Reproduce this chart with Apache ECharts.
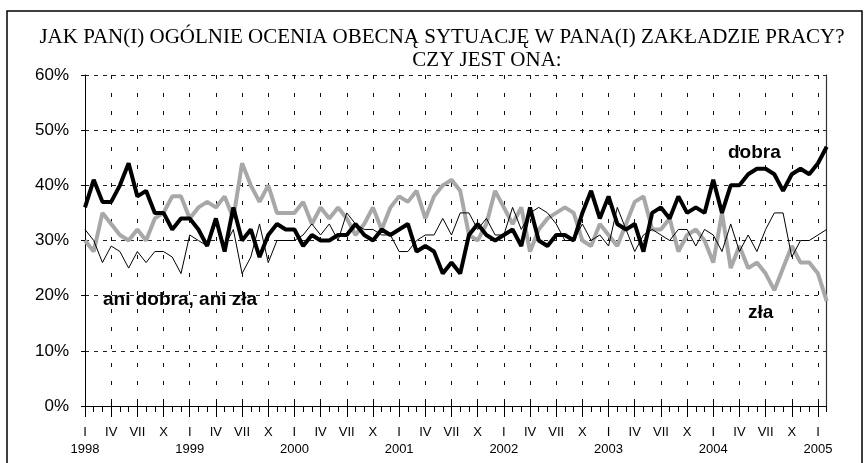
<!DOCTYPE html>
<html><head><meta charset="utf-8">
<script src="https://cdn.jsdelivr.net/npm/echarts@6/dist/echarts.min.js"></script>
<style>html,body{margin:0;padding:0;background:#fff}#c{width:867px;height:463px}</style>
</head><body><div id="c"></div>
<script>
const years = ['1998','1999','2000','2001','2002','2003','2004','2005'];
const quarterLabels = ['I','IV','VII','X'];
const yTicks = [0,10,20,30,40,50,60];
const dobra = [
 36,41,37,37,40,44,38,39,35,35,32,34,
 34,32,29,34,28,36,30,32,27,31,33,32,
 32,29,31,30,30,31,31,33,31,30,32,31,
 32,33,28,29,28,24,26,24,31,33,31,30,
 31,32,29,36,30,29,31,31,30,35,39,34,
 38,33,32,33,28,35,36,34,38,35,36,35,
 41,35,40,40,42,43,43,42,39,42,43,42,
 44,47];
const zla = [
 30,28,35,33,31,30,32,30,34,35,38,38,
 34,36,37,36,38,34,44,40,37,40,35,35,
 35,37,33,36,34,36,34,31,33,36,32,36,
 38,37,39,34,38,40,41,39,31,30,33,39,
 36,33,36,28,32,34,35,36,35,30,29,33,
 31,29,33,37,38,32,32,34,28,31,32,30,
 26,35,25,29,25,26,24,21,25,29,26,26,
 24,19];
const ani = [
 32,30,26,29,28,25,28,26,28,28,27,24,
 31,30,29,33,29,32,24,27,33,26,30,30,
 30,31,33,31,33,30,35,33,32,32,31,31,
 28,28,30,31,31,34,31,35,35,32,34,31,
 31,36,32,35,36,35,33,30,30,33,30,31,
 29,36,32,28,31,32,31,30,32,32,29,32,
 31,28,33,28,31,28,32,35,35,27,30,30,
 31,32];

const months = [];
for (let i = 0; i < dobra.length; i++) months.push(years[Math.floor(i/12)] + '-' + (i%12+1));

const chart = echarts.init(document.getElementById('c'), null, {renderer:'canvas'});
const isQuarter = (i) => i % 3 === 0;
const baseX = {type:'category', data: months, boundaryGap:false, position:'bottom', gridIndex:0};
const hidden = {axisLine:{show:false}, axisLabel:{show:false}, splitLine:{show:false}, axisTick:{show:false}};
const labelFont = {color:'#000', fontFamily:'"Liberation Sans", Arial, sans-serif', fontSize:13};
const baseGraphics = [
  {type:'rect', shape:{x:7, y:11, width:855, height:470}, style:{fill:'none', stroke:'#000', lineWidth:1.5}, silent:true},
  {type:'text', x:442, y:37, style:{text:'JAK PAN(I) OGÓLNIE OCENIA OBECNĄ SYTUACJĘ W PANA(I) ZAKŁADZIE PRACY?', font:'21px "Liberation Serif", "Times New Roman", serif', fill:'#000', align:'center', verticalAlign:'middle'}},
  {type:'text', x:487, y:60, style:{text:'CZY JEST ONA:', font:'21px "Liberation Serif", "Times New Roman", serif', fill:'#000', align:'center', verticalAlign:'middle'}},
  {type:'text', x:728, y:153, style:{text:'dobra', font:'bold 19px "Liberation Sans", Arial, sans-serif', fill:'#000', verticalAlign:'middle'}},
  {type:'text', x:748, y:313, style:{text:'zła', font:'bold 19px "Liberation Sans", Arial, sans-serif', fill:'#000', verticalAlign:'middle'}},
  {type:'text', x:103, y:300, style:{text:'ani dobra, ani zła', font:'bold 19px "Liberation Sans", Arial, sans-serif', fill:'#000', verticalAlign:'middle'}}
];
chart.setOption({
  animation:false,
  backgroundColor:'#fff',
  grid:{left:85, right:40.3, top:75, bottom:57},
  xAxis:[
    Object.assign({}, baseX, hidden, {
      axisLine:{show:true, lineStyle:{color:'#000', width:1}},
      axisTick:{show:true, interval:0, length:6, lineStyle:{color:'#000'}},
      splitLine:{show:true, interval:(i)=>isQuarter(i) && i>0, lineStyle:{color:'#111', width:1, type:[4,14]}}
    }),
    Object.assign({}, baseX, hidden, {
      axisTick:{show:true, interval:(i)=>isQuarter(i), length:11, lineStyle:{color:'#000'}}
    }),
    Object.assign({}, baseX, hidden, {
      axisTick:{show:true, inside:true, interval:(i)=>isQuarter(i), length:5, lineStyle:{color:'#000'}}
    }),
    Object.assign({}, baseX, hidden, {
      axisLabel:Object.assign({show:true, interval:(i)=>i%12===0, margin:37,
        formatter:(v, i)=>years[Math.floor(i/12)]}, labelFont)
    })
  ],
  yAxis:[
    {type:'value', min:yTicks[0], max:yTicks[yTicks.length-1], interval:10,
     axisLine:{show:true, lineStyle:{color:'#000', width:1}},
     axisTick:{show:true, length:4, lineStyle:{color:'#000'}},
     axisLabel:{formatter:'{value}%', color:'#000', fontFamily:'"Liberation Sans", Arial, sans-serif', fontSize:17, margin:16},
     splitLine:{show:true, lineStyle:{color:'#222', width:1, type:[4,5]}}},
    {type:'value', min:yTicks[0], max:yTicks[yTicks.length-1], interval:10, position:'right',
     axisLine:{show:true, lineStyle:{color:'#333', width:1.2}}, axisTick:{show:false}, axisLabel:{show:false}, splitLine:{show:false}}
  ],
  series:[
    {name:'zła', type:'line', data:zla, showSymbol:false, symbol:'none', lineStyle:{color:'#a8a8a8', width:4}, z:2},
    {name:'ani dobra, ani zła', type:'line', data:ani, showSymbol:false, symbol:'none', lineStyle:{color:'#000', width:1}, z:3},
    {name:'dobra', type:'line', data:dobra, showSymbol:false, symbol:'none', lineStyle:{color:'#000', width:4}, z:4}
  ],
  graphic: baseGraphics
});
// Quarter (roman numeral) tick labels, positioned by the category axis scale
const axisY = chart.convertToPixel({yAxisIndex:0}, 0);
const romanGraphics = [];
for (let i = 0; i < months.length; i++) {
  if (!isQuarter(i)) continue;
  const x = chart.convertToPixel({xAxisIndex:0}, months[i]);
  romanGraphics.push({type:'text', x:x, y:axisY + 20, silent:true,
    style:{text:quarterLabels[(i%12)/3], font:'13px "Liberation Sans", Arial, sans-serif', fill:'#000', align:'center', verticalAlign:'top'}});
}
chart.setOption({graphic: baseGraphics.concat(romanGraphics)});
</script></body></html>
